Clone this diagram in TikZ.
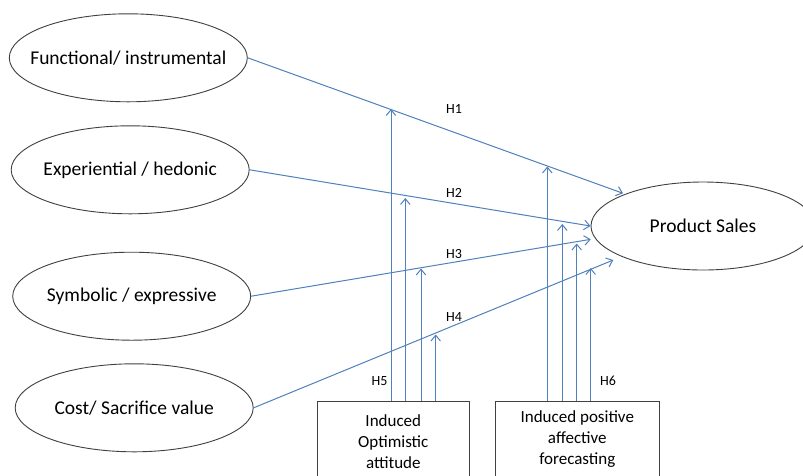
\documentclass[tikz,border=0pt]{standalone}
\usepackage{fontspec}
\setmainfont{Carlito}
\usetikzlibrary{shapes.geometric,arrows.meta}
\definecolor{linkblue}{RGB}{79,129,189}
\definecolor{outline}{RGB}{64,64,64}
\begin{document}
\begin{tikzpicture}[x=1pt,y=-1pt,
  valnode/.style={ellipse, draw=outline, line width=0.9pt, minimum width=238pt, minimum height=88pt, inner sep=0pt,
    label={[font=\fontsize{19.5}{22}\selectfont, inner sep=0pt]center:#1}},
  salesnode/.style={ellipse, draw=outline, line width=0.9pt, minimum width=224pt, minimum height=88pt, inner sep=0pt,
    font=\fontsize{19.5}{22}\selectfont},
  boxnode/.style={rectangle, draw=outline, line width=0.9pt, minimum height=110pt, anchor=north, inner sep=0pt},
  boxtext/.style={align=center, inner sep=0pt, font=\fontsize{17}{21}\selectfont},
  link/.style={draw=linkblue, line width=1pt, -{Straight Barb[length=5.7pt,width=9.5pt]}},
  hlab/.style={font=\fontsize{14}{16}\selectfont, inner sep=0pt}]
\useasboundingbox (0,0) rectangle (803,475);
\fill[white] (0,0) rectangle (803,475);
% value ellipses
\node[valnode={Functional/ instrumental}] (f) at (128.3,57.8) {};
\node[valnode={Experiential / hedonic}] (e) at (130.2,169.8) {};
\node[valnode={Symbolic / expressive}] (s) at (131.7,296.2) {};
\node[valnode={Cost/ Sacrifice value}] (c) at (134.2,407.8) {};
\node[salesnode] (ps) at (703,226) {Product Sales};
% moderator boxes
\node[boxnode, minimum width=152pt] (b1) at (393.3,401) {};
\node[boxnode, minimum width=163.3pt] (b2) at (577.3,401) {};
\node[boxtext] (b1t) at (393.3,442) {Induced\\Optimistic\\attitude};
\node[boxtext] (b2t) at (577.3,439) {Induced positive\\affective\\forecasting};
% tips
\coordinate (t1) at (623,193.3);
\coordinate (t3) at (590.7,239.3);
\coordinate (t4) at (613.3,260);
\coordinate (m1) at (391,109);
\coordinate (m2) at (405.3,198);
\coordinate (m3) at (421,268.5);
\coordinate (m4) at (435.7,334.5);
\coordinate (n1) at (547.3,166.5);
\coordinate (n2) at (562.3,224);
\coordinate (n3) at (576.7,243.5);
\coordinate (n4) at (590.7,268);
% main paths
\draw[link] (f.east) -- (t1);
\draw[link] (e.east) -- (ps.west);
\draw[link] (s.east) -- (t3);
\draw[link] (c.east) -- (t4);
% moderating paths
\foreach \m in {m1,m2,m3,m4}{\draw[link] (b1.north -| \m) -- (\m);}
\foreach \m in {n1,n2,n3,n4}{\draw[link] (b2.north -| \m) -- (\m);}
% labels
\node[hlab] (h1) at (454,109) {H1};
\node[hlab] (h2) at (454,193) {H2};
\node[hlab] (h3) at (454,253.5) {H3};
\node[hlab] (h4) at (454,317) {H4};
\node[hlab] (h5) at (379.5,381) {H5};
\node[hlab] (h6) at (608,381) {H6};
\end{tikzpicture}
\end{document}
